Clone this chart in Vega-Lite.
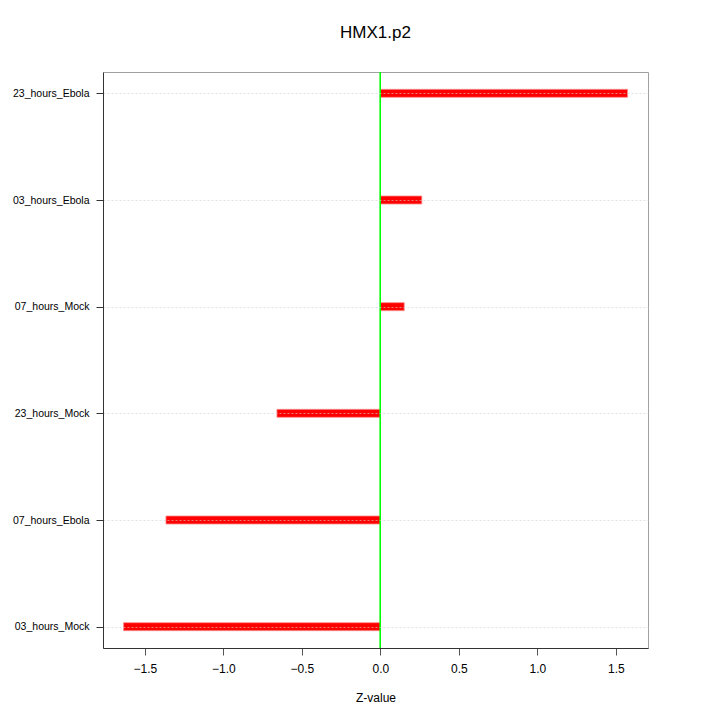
{
  "$schema": "https://vega.github.io/schema/vega-lite/v6.json",
  "width": 545,
  "height": 576,
  "autosize": {"type": "none"},
  "padding": {"left": 103, "top": 72, "right": 72, "bottom": 72},
  "background": "white",
  "config": {
    "font": "Liberation Sans",
    "view": {"stroke": "#a0a0a0", "strokeWidth": 1}
  },
  "title": {
    "text": "HMX1.p2",
    "fontSize": 17,
    "fontWeight": "normal",
    "font": "Liberation Sans",
    "color": "black",
    "offset": 30
  },
  "data": {
    "values": [
      {"sample": "23_hours_Ebola", "z": 1.575},
      {"sample": "03_hours_Ebola", "z": 0.264},
      {"sample": "07_hours_Mock", "z": 0.152},
      {"sample": "23_hours_Mock", "z": -0.659},
      {"sample": "07_hours_Ebola", "z": -1.366},
      {"sample": "03_hours_Mock", "z": -1.636}
    ]
  },
  "layer": [
    {
      "mark": {"type": "bar", "size": 8, "fill": "#ff0000", "stroke": "#ff8c8c", "strokeWidth": 0.8},
      "encoding": {
        "y": {
          "field": "sample",
          "type": "nominal",
          "sort": ["23_hours_Ebola", "03_hours_Ebola", "07_hours_Mock", "23_hours_Mock", "07_hours_Ebola", "03_hours_Mock"],
          "scale": {"type": "point", "padding": 0.2},
          "axis": {
            "title": null,
            "zindex": 1,
            "grid": true,
            "gridColor": "#d0d0d0",
            "gridDash": [2, 2],
            "gridWidth": 0.6,
            "domainColor": "#333333",
            "tickColor": "#333333",
            "tickSize": 7,
            "labelPadding": 7,
            "labelFontSize": 10.5,
            "labelColor": "black",
            "labelFont": "Liberation Sans"
          }
        },
        "x": {
          "field": "z",
          "type": "quantitative",
          "scale": {"domain": [-1.767, 1.705], "nice": false, "zero": false},
          "axis": {
            "title": "Z-value",
            "titleFontSize": 12,
            "titleFontWeight": "normal",
            "titleColor": "black",
            "titlePadding": 18,
            "grid": false,
            "values": [-1.5, -1.0, -0.5, 0.0, 0.5, 1.0, 1.5],
            "format": ".1f",
            "domainColor": "#333333",
            "tickColor": "#555555",
            "tickSize": 7,
            "labelPadding": 8,
            "labelFontSize": 12,
            "labelColor": "black",
            "labelFont": "Liberation Sans"
          }
        },
        "x2": {"datum": 0}
      }
    },
    {
      "mark": {"type": "rule", "color": "#00ff00", "strokeWidth": 1},
      "encoding": {"x": {"datum": 0}}
    }
  ]
}
